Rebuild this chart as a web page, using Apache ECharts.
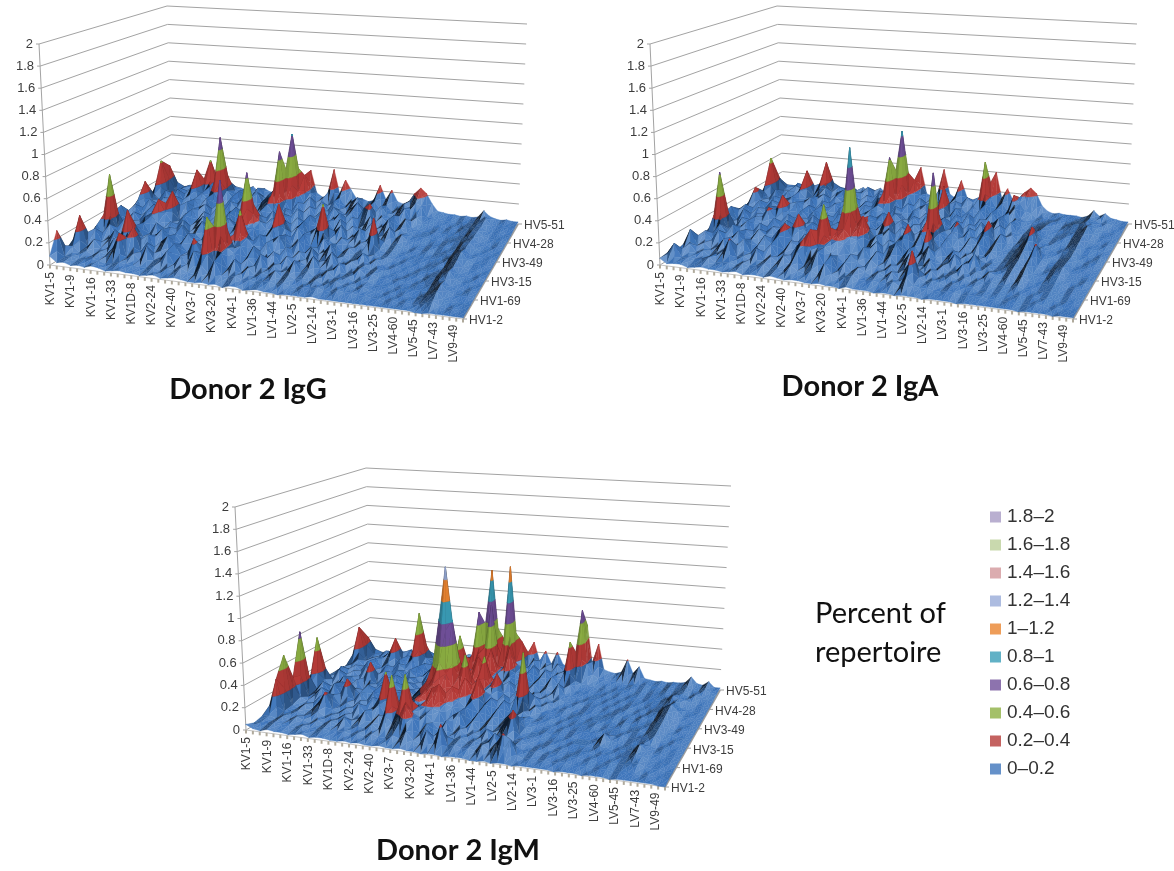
<!DOCTYPE html>
<html><head><meta charset="utf-8">
<style>html,body{margin:0;padding:0;background:#fff}#c{width:1174px;height:871px;filter:blur(0.45px)}</style>
<script src="https://cdn.jsdelivr.net/npm/echarts@6/dist/echarts.min.js"></script>
</head><body><div id="c"></div>
<script>
// Labelled genes: every third column / every third row carries a label.
const xLabels=['KV1-5','KV1-9','KV1-16','KV1-33','KV1D-8','KV2-24','KV2-40','KV3-7','KV3-20','KV4-1','LV1-36','LV1-44','LV2-5','LV2-14','LV3-1','LV3-16','LV3-25','LV4-60','LV5-45','LV7-43','LV9-49'];
const depthLabels=['HV1-2','HV1-69','HV3-15','HV3-49','HV4-28','HV5-51'];
const zTicks=[0,0.2,0.4,0.6,0.8,1,1.2,1.4,1.6,1.8,2];
const bandNames=['0–0.2','0.2–0.4','0.4–0.6','0.6–0.8','0.8–1','1–1.2','1.2–1.4','1.4–1.6','1.6–1.8','1.8–2'];
const bandColors=['#3f76bb','#b53b38','#8db043','#71509a','#3a9db8','#ea8430','#98abd8','#d2979b','#bbd09a','#a89bc4'];
// Percent of repertoire x100, rows run front (HV1-2) to back (HV5-51), columns left to right.
const donor2IgG=[
[8,3,4,2,3,2,4,3,1,2, 3,2,2,1,2,3,1,2,3,2, 1,1,2,1,2,0,2,2,0,1, 2,1,1,0,1,1,1,1,2,1, 1,1,1,1,1,1,1,1,1,1, 1,1,1,0,0,1,1,1,1,1, 1],
[27,4,5,3,4,5,4,2,3,5, 4,4,3,3,5,2,5,4,7,4, 3,12,5,17,5,4,6,3,4,3, 4,5,3,5,3,2,4,4,5,3, 3,5,4,4,3,3,2,2,1,2, 1,2,1,2,4,6,2,1,2,1, 1],
[5,9,4,6,3,7,5,12,26,5, 9,3,17,5,7,15,4,12,5,18, 5,50,9,19,6,15,4,9,3,6, 5,9,4,7,4,5,3,6,3,5, 7,4,5,3,5,3,2,1,2,1, 2,1,1,3,6,9,3,2,1,1, 1],
[3,33,5,12,5,4,15,7,18,28, 6,15,5,9,4,17,7,5,24,12, 14,20,80,19,15,5,12,6,17,5, 9,4,6,15,5,7,3,5,9,4, 5,6,3,5,4,2,2,2,1,2, 2,2,2,2,5,10,4,2,2,2, 1],
[5,7,17,5,9,18,6,38,15,7, 17,5,12,18,6,12,5,15,7,19, 12,17,22,15,17,7,18,5,9,15, 5,12,5,9,6,15,5,4,6,12, 3,5,9,4,6,3,3,2,3,2, 1,2,2,3,7,8,3,2,1,2, 1],
[4,15,6,17,7,5,15,19,9,5, 12,18,5,15,7,17,9,6,15,9, 18,19,14,44,19,12,6,17,7,5, 15,6,12,5,17,5,7,15,4,6, 9,5,7,3,5,4,2,2,1,2, 2,1,3,4,8,11,4,2,2,1, 1],
[6,12,60,7,18,9,5,17,7,18, 6,15,9,19,5,12,7,18,5,15, 7,19,18,17,9,18,5,15,19,7, 5,17,6,12,5,9,17,5,7,4, 6,12,4,7,3,2,3,2,2,1, 2,2,2,3,6,9,3,2,1,2, 1],
[5,18,9,5,12,6,17,19,12,6, 15,7,18,5,12,19,6,9,17,5, 15,22,18,18,6,12,19,7,15,5, 9,18,7,5,15,6,12,5,9,5, 7,4,6,4,5,3,2,3,2,2, 1,2,3,2,7,10,4,2,2,1, 1],
[7,20,7,15,6,17,9,30,18,9, 5,17,7,12,18,6,15,7,19,12, 22,65,26,19,12,6,38,15,5,17, 7,15,19,42,9,5,12,7,5,9, 6,34,5,3,5,3,3,2,2,2, 2,2,2,4,9,12,5,2,2,2, 1],
[5,9,17,6,12,19,7,15,34,6, 12,18,9,17,5,15,7,18,6,12, 17,19,19,12,18,7,17,6,12,18, 5,9,17,6,12,18,5,9,17,6, 12,5,7,4,6,4,2,3,2,3, 1,2,3,3,7,9,3,3,2,2, 1],
[4,15,6,18,9,5,17,7,12,19, 6,15,19,7,17,5,12,19,7,15, 6,18,9,19,5,17,7,15,6,19, 9,5,15,7,18,6,12,5,9,17, 5,7,15,5,9,4,3,2,1,2, 2,3,2,3,8,9,4,2,2,1, 1],
[7,30,12,5,15,7,18,9,6,17, 9,19,7,15,6,18,12,6,17,7, 15,19,12,6,17,9,18,5,12,7, 17,6,12,18,7,15,5,9,18,6, 9,17,5,9,5,3,3,3,2,2, 1,2,3,4,6,8,3,2,1,2, 1],
[5,12,6,17,9,19,7,15,5,18, 12,19,9,6,17,7,19,12,6,15, 19,24,68,17,7,18,9,15,6,12, 5,17,9,6,15,7,19,24,6,12, 7,15,6,12,4,3,2,2,3,2, 2,2,2,3,7,8,4,2,2,2, 1],
[5,42,9,6,15,7,17,36,12,19, 7,72,17,9,18,6,12,19,7,17, 19,20,26,82,24,12,19,7,15,6, 17,9,5,12,18,7,15,6,17,9, 5,9,17,6,9,4,3,2,2,1, 2,1,3,4,6,7,3,2,2,1, 1],
[4,32,5,9,6,12,5,7,42,15, 9,22,12,6,15,7,17,9,6,18, 22,30,45,38,35,17,7,12,6,9, 15,7,12,17,6,9,15,7,12,6, 9,15,12,17,15,4,4,3,2,2, 1,2,2,3,6,8,3,2,2,2, 2],
[2,6,5,7,8,6,9,7,11,8, 7,10,9,8,12,7,11,8,9,7, 12,10,13,9,35,12,8,10,38,13, 28,18,9,10,8,10,26,12,22,11, 9,12,21,27,22,12,5,4,3,3, 2,3,2,3,10,5,3,2,3,2, 2]
];
const donor2IgA=[
[6,2,3,3,1,2,3,2,2,1, 2,3,1,2,2,1,3,2,1,2, 2,1,1,2,1,1,0,2,1,1, 1,0,1,1,0,1,1,1,0,1, 1,1,1,0,1,1,1,1,1,1, 1,1,0,1,1,1,1,0,1,1, 1],
[7,16,4,5,4,5,7,3,4,5, 3,6,4,5,7,3,5,4,9,5, 4,7,4,15,6,3,5,7,4,4, 5,4,4,6,3,12,5,4,4,3, 3,4,4,2,3,3,3,2,2,1, 2,2,1,2,3,2,1,2,1,1, 1],
[4,5,12,5,7,3,6,9,21,5, 7,4,15,5,9,5,12,6,17,5, 12,19,7,17,5,12,5,9,6,4, 7,5,9,3,5,30,7,4,6,5, 3,5,4,4,4,2,3,2,3,2, 2,3,2,3,2,3,2,1,2,2, 1],
[3,20,6,9,4,7,15,5,9,17, 5,12,6,15,5,9,7,17,24,33, 17,18,14,12,6,15,9,5,12,7, 5,9,4,7,15,6,5,9,3,5, 7,4,6,3,5,4,5,3,4,3, 5,3,3,2,3,4,3,2,3,2, 1],
[5,9,15,7,17,5,12,18,6,12, 7,17,9,18,6,15,9,5,15,19, 52,19,20,18,9,5,17,7,15,6, 12,5,9,17,5,7,12,5,9,4, 6,12,5,7,3,8,6,4,7,3, 8,4,3,3,4,5,4,2,3,2, 1],
[5,7,6,17,9,18,5,15,9,17, 12,6,18,25,12,7,17,9,6,18, 19,24,26,19,17,7,12,18,6,15, 19,7,15,6,12,18,9,5,7,15, 5,9,17,5,7,4,5,6,9,5, 12,5,4,3,6,7,4,3,2,3, 1],
[4,15,62,9,6,12,18,7,17,6, 15,9,18,7,30,17,6,15,9,18, 19,32,98,26,35,12,18,7,15,9, 17,6,12,5,30,7,15,6,12,5, 9,5,7,4,5,3,4,7,10,6, 15,6,3,4,7,9,4,3,2,2, 1],
[6,17,9,5,15,7,17,12,6,18, 9,17,6,15,9,18,7,12,17,7, 15,22,30,19,18,9,15,19,7,12, 26,9,18,7,15,6,17,9,5,12, 7,15,5,9,5,3,5,8,13,7, 21,7,4,4,6,8,3,3,3,2, 1],
[5,19,6,18,7,15,9,22,12,7, 17,6,15,9,19,7,17,6,15,19, 12,19,22,19,12,18,30,7,17,12, 6,15,19,72,15,7,18,12,6,15, 9,18,6,12,5,4,6,9,17,8, 11,6,5,3,5,7,4,2,3,3, 1],
[7,12,17,6,15,9,18,7,30,15, 6,17,9,18,7,15,6,17,9,15, 18,9,19,15,7,17,9,18,6,15, 9,18,7,20,12,6,22,9,17,7, 15,26,7,15,6,4,5,10,25,9, 8,5,4,5,6,8,3,3,2,3, 1],
[5,9,6,17,7,18,12,6,15,19, 9,17,6,18,12,7,17,9,18,6, 15,19,9,17,6,18,12,7,17,9, 18,7,15,19,9,17,6,15,9,18, 6,12,17,7,9,3,6,9,15,8, 5,6,5,4,7,10,4,4,3,2, 1],
[6,24,12,7,17,9,15,18,7,15, 19,7,17,9,15,6,18,12,7,17, 9,18,15,7,19,12,6,17,9,15, 7,18,12,6,17,9,19,7,15,6, 12,18,7,15,6,4,6,8,11,6, 4,5,6,5,8,11,5,3,2,3, 1],
[5,15,7,18,6,17,9,19,12,6, 15,18,7,17,12,6,18,9,15,7, 19,22,62,18,9,17,7,15,18,6, 12,38,9,17,7,15,6,18,9,17, 7,15,6,12,5,3,5,7,9,5, 4,4,5,6,9,13,6,3,3,2, 1],
[5,45,6,12,7,18,15,35,9,17, 19,7,15,18,6,17,9,15,7,18, 12,19,22,85,20,9,18,6,15,9, 17,7,18,12,6,15,9,18,7,15, 6,12,17,7,5,4,4,5,6,5, 3,5,7,8,10,9,6,3,2,2, 1],
[3,18,9,6,15,7,12,7,17,40, 9,15,7,17,6,12,18,7,15,9, 17,20,35,24,30,15,7,12,6,17, 9,15,7,17,12,6,55,19,9,15, 7,24,17,9,7,3,4,3,3,4, 3,3,4,5,8,6,4,5,3,2, 2],
[2,4,6,8,7,9,6,8,11,7, 9,8,12,7,11,8,9,12,7,11, 8,12,11,13,38,11,9,12,38,13, 9,28,11,8,12,9,13,40,14,24, 12,14,22,27,22,10,5,3,4,3, 3,3,2,4,10,5,8,4,3,2, 2]
];
const donor2IgM=[
[5,2,1,3,2,2,1,2,3,1, 2,2,1,1,2,1,2,1,1,2, 1,1,2,1,1,0,1,1,0,1, 1,1,0,0,1,0,1,1,0,1, 1,1,1,1,0,1,1,1,0,1, 1,1,0,1,1,1,1,1,1,0, 0],
[2,3,3,5,4,4,3,5,3,3, 5,4,4,5,3,5,3,6,4,4, 7,5,12,5,3,15,5,22,4,6, 4,5,3,9,5,12,21,17,4,2, 3,2,3,2,3,3,2,2,2,1, 2,2,1,2,2,2,1,2,1,1, 1],
[4,5,3,6,4,7,5,3,6,4, 7,5,12,4,6,5,9,5,18,12, 19,30,19,7,15,5,9,6,5,7, 4,6,5,7,15,5,4,7,3,3, 4,2,3,3,2,3,3,2,3,2, 2,3,2,3,4,5,3,2,2,1, 1],
[3,34,5,5,7,4,6,9,5,7, 5,9,5,7,15,6,12,7,50,19, 52,19,15,18,12,6,15,5,9,5, 7,5,12,4,6,9,5,6,4,2, 3,4,2,3,2,2,3,3,2,3, 3,2,3,4,7,6,3,2,2,2, 1],
[3,52,6,5,9,5,12,22,7,5, 9,5,15,6,12,17,7,15,6,17, 15,19,20,19,17,7,15,19,6,12, 5,9,5,7,17,26,5,4,4,3, 2,3,3,2,3,3,3,2,4,3, 2,3,3,4,10,5,3,3,2,2, 1],
[4,27,9,6,5,12,7,15,6,9, 6,12,7,17,9,42,6,17,9,19, 22,19,32,36,19,17,9,18,7,15, 6,12,5,9,5,15,6,3,3,4, 3,3,2,3,2,2,2,3,10,4, 3,2,3,3,5,4,2,3,2,2, 1],
[4,66,5,9,15,6,20,9,26,7, 15,7,17,6,18,12,19,9,15,19, 24,30,24,19,30,18,12,19,9,17, 7,15,6,12,4,9,5,4,3,3, 2,3,2,3,3,3,3,2,3,3, 4,2,3,4,5,7,3,2,3,2, 1],
[3,12,7,15,6,9,17,7,12,6, 17,9,18,7,15,6,17,12,19,26, 30,46,36,24,19,34,19,36,12,18, 9,17,7,5,9,5,3,4,4,2, 3,2,3,3,3,4,2,3,3,3, 2,3,4,3,6,8,4,3,2,2, 1],
[5,52,12,6,9,17,7,15,6,12, 7,15,6,17,9,18,12,6,19,26, 82,132,82,30,50,19,28,18,15,9, 17,7,15,58,5,9,4,4,3,3, 2,3,3,2,3,3,3,3,2,4, 3,3,3,4,7,9,5,2,3,2, 1],
[4,9,6,17,7,12,6,9,28,7, 15,9,18,6,17,12,7,18,15,20, 30,46,40,24,19,17,45,18,30,12, 6,15,7,5,12,5,7,3,3,4, 2,2,3,3,2,2,3,4,3,3, 2,4,3,3,8,11,6,3,2,2, 1],
[5,6,15,7,12,6,17,9,6,15, 7,17,9,19,12,6,18,9,17,19, 20,24,19,19,38,17,20,15,9,18, 7,12,5,9,5,7,4,6,4,3, 4,2,3,3,2,3,2,3,4,2, 3,2,4,5,10,13,8,3,3,2, 1],
[5,9,7,12,6,17,9,6,15,7, 18,12,6,17,9,15,19,12,7,18, 52,19,20,36,19,40,18,12,17,7, 15,6,12,5,9,6,15,5,4,3, 2,3,3,2,3,2,3,2,3,3, 2,3,3,4,6,9,4,3,2,2, 1],
[4,7,12,6,9,15,7,12,6,17, 9,18,7,15,6,18,12,17,9,19, 20,24,72,26,80,19,18,38,15,9, 17,7,12,6,15,7,5,9,3,3, 3,2,2,3,2,3,2,3,3,2, 3,3,3,5,9,7,6,4,2,2, 1],
[3,40,6,9,7,12,17,32,7,15, 9,60,15,7,18,12,6,17,9,19, 22,18,24,110,26,20,115,19,15,9, 18,7,15,6,12,9,45,7,5,4, 3,2,3,2,3,3,3,2,3,2, 3,3,4,3,5,6,3,5,3,2, 1],
[2,25,7,6,12,7,9,6,15,9, 7,17,9,6,15,7,17,9,6,15, 20,22,40,24,36,19,15,35,9,17, 7,12,6,15,9,17,7,72,19,9, 5,5,4,4,3,2,3,3,4,3, 3,2,4,3,4,6,4,3,5,3, 2],
[1,3,4,6,5,8,7,10,6,9, 8,7,11,8,9,12,8,11,9,7, 12,10,13,9,11,30,10,12,30,11, 22,9,22,10,8,9,11,52,13,34, 9,7,6,8,21,8,15,4,3,2, 3,2,3,3,4,10,4,3,7,2, 2]
];

const nCols=61,nRows=16;
const colNames=Array.from({length:nCols},(_,i)=>i%3===0?xLabels[i/3]:'');
const rowNames=Array.from({length:nRows},(_,i)=>i%3===0?depthLabels[i/3]:'');

// Each panel's view: floor and z=2 plane corners [front-left, front-right, back-right, back-left].
const panels=[
 {rows:donor2IgG,floor:[[50,265],[463,319],[518,224],[173,190]],top:[[39,44],[472,79],[527,24],[167,6]]},
 {rows:donor2IgA,floor:[[660,265],[1073,319],[1128,224],[783,190]],top:[[650,44],[1082,79],[1137,24],[777,6]]},
 {rows:donor2IgM,floor:[[246,730],[665,787],[720,690],[371,655]],top:[[235,507],[675,542],[731,486],[366,468]]}
];
function bilinear(q){
 const [a,b,c,d]=q;
 return (u,v)=>[0,1].map(k=>(a[k]*(1-u)+b[k]*u)*(1-v)+(d[k]*(1-u)+c[k]*u)*v);
}
panels.forEach(p=>{
 const H0=bilinear(p.floor),H2=bilinear(p.top);
 p.proj=(u,v,z)=>{const t=echarts.number.linearMap(z,[0,2],[0,1]);const A=H0(u,v),B=H2(u,v);return [A[0]+(B[0]-A[0])*t,A[1]+(B[1]-A[1])*t];};
});
function shade(hex,f){
 const n=parseInt(hex.slice(1),16);let r=n>>16,g=(n>>8)&255,b=n&255;
 const m=x=>Math.round(f<=1?x*f:x+(255-x)*(f-1)*0.75);
 return 'rgb('+m(r)+','+m(g)+','+m(b)+')';
}
function clip(poly,lim,keepAbove){
 const out=[];
 for(let i=0;i<poly.length;i++){
  const a=poly[i],b=poly[(i+1)%poly.length];
  const ia=keepAbove?a[2]>=lim:a[2]<=lim, ib=keepAbove?b[2]>=lim:b[2]<=lim;
  if(ia)out.push(a);
  if(ia!==ib){const t=(lim-a[2])/(b[2]-a[2]);out.push([a[0]+(b[0]-a[0])*t,a[1]+(b[1]-a[1])*t,lim]);}
 }
 return out;
}
const LIGHT=(()=>{const v=[0.5,-0.4,0.77],l=Math.hypot(...v);return v.map(x=>x/l);})();
function triangles(panel,tri,out){
 const sx=60,sy=40,sz=20; // model scale used only for lighting
 const P=tri.map(p=>[p[0]*sx,p[1]*sy,p[2]*sz]);
 const a=[P[1][0]-P[0][0],P[1][1]-P[0][1],P[1][2]-P[0][2]],b=[P[2][0]-P[0][0],P[2][1]-P[0][1],P[2][2]-P[0][2]];
 let n=[a[1]*b[2]-a[2]*b[1],a[2]*b[0]-a[0]*b[2],a[0]*b[1]-a[1]*b[0]];
 const L=Math.hypot(...n)||1;n=n.map(x=>x/L);
 const dot=n[0]*LIGHT[0]+n[1]*LIGHT[1]+n[2]*LIGHT[2];
 let f=0.97+(dot-LIGHT[2])*1.5;f=Math.max(0.22,Math.min(1.55,f));
 const s=tri.map(p=>panel.proj(p[0],p[1],p[2]));
 const area=(s[1][0]-s[0][0])*(s[2][1]-s[0][1])-(s[2][0]-s[0][0])*(s[1][1]-s[0][1]);
 const back=area>0;
 const zs=tri.map(p=>p[2]);
 const lo=Math.min(...zs),hi=Math.max(...zs);
 for(let i=Math.floor(lo/0.2);i<bandColors.length;i++){
  const bl=i*0.2,bh=(i+1)*0.2;
  if(bl>hi)break;
  let poly=clip(clip(tri,bl,true),bh,false);
  if(poly.length<3)continue;
  const fill=back?shade(i===0?'#122238':bandColors[i],i===0?1:0.45):shade(bandColors[i],i===0?f:0.72+0.28*f);
  out.push({type:'polygon',shape:{points:poly.map(p=>panel.proj(p[0],p[1],p[2]))},style:{fill,stroke:fill,lineWidth:0.35},silent:true});
 }
}
function surfaceRender(panel){
 return function(params,api){
  const c=api.value(0),r=api.value(1),cs=params.coordSys;
  const uv=(i,j)=>{const p=api.coord([i,j]);return [(p[0]-cs.x)/cs.width,1-(p[1]-cs.y)/cs.height];};
  const V=(i,j)=>{const q=uv(i,j);return [q[0],q[1],panel.rows[j][i]/100];};
  const FL=V(c,r),FR=V(c+1,r),BR=V(c+1,r+1),BL=V(c,r+1);
  const M=[(FL[0]+BR[0])/2,(FL[1]+BR[1])/2,(FL[2]+FR[2]+BR[2]+BL[2])/4];
  const out=[];
  triangles(panel,[BR,BL,M],out);
  triangles(panel,[BL,FL,M],out);
  triangles(panel,[FR,BR,M],out);
  triangles(panel,[FL,FR,M],out);
  return {type:'group',silent:true,children:out};
 };
}
const LINE='#a3a3a3',TXT='#3c3c3c',FF='Liberation Sans';
function frameRender(panel){
 return function(){
  const k=[],P=panel.proj;
  const line=(a,b,col,w)=>k.push({type:'line',shape:{x1:a[0],y1:a[1],x2:b[0],y2:b[1]},style:{stroke:col,lineWidth:w},silent:true});
  zTicks.forEach(z=>{
   if(z>0){line(P(0,0,z),P(0,1,z),LINE,1);line(P(0,1,z),P(1,1,z),LINE,1);}
   const a=P(0,0,z);
   line([a[0]-3,a[1]],a,LINE,1);
   k.push({type:'text',x:a[0]-6,y:a[1],style:{text:String(z),fontFamily:FF,fontSize:13,fill:TXT,align:'right',verticalAlign:'middle'},silent:true});
  });
  line(P(0,0,0),P(0,0,2),LINE,1);
  line(P(0,0,0),P(0,1,0),LINE,1);
  line(P(1,0,0),P(1,1,0),'#9c9c9c',2);
  line(P(0,0,0),P(1,0,0),'#c4c4c4',1);
  for(let i=0;i<=nCols;i++){const a=P(i/nCols,0,0);line(a,[a[0],a[1]+3.5],'#b0aa9c',2);}
  colNames.forEach((t,i)=>{
   if(!t)return;
   const a=P(i/61.5,0,0);
   k.push({type:'text',x:a[0]+1,y:a[1]+7,rotation:Math.PI/2,style:{text:t,fontFamily:FF,fontSize:12,fill:TXT,align:'right',verticalAlign:'middle'},silent:true});
  });
  rowNames.forEach((t,j)=>{
   if(!t)return;
   const a=P(1,j/(nRows-1),0);
   line(a,[a[0]+4,a[1]],'#9c9c9c',1);
   k.push({type:'text',x:a[0]+6,y:a[1]+2,style:{text:t,fontFamily:FF,fontSize:12,fill:TXT,align:'left',verticalAlign:'middle'},silent:true});
  });
  return {type:'group',silent:true,children:k};
 };
}
const cells=[];
for(let r=nRows-2;r>=0;r--)for(let c=0;c<nCols-1;c++)cells.push([c,r]);

const series=[],grid=[],xAxis=[],yAxis=[];
panels.forEach((p,i)=>{
 grid.push({left:10,top:10+i*10,width:100,height:100,show:false,containLabel:false});
 xAxis.push({type:'category',gridIndex:i,show:false,boundaryGap:false,data:colNames});
 yAxis.push({type:'category',gridIndex:i,show:false,boundaryGap:false,data:rowNames});
 series.push({type:'custom',name:'frame'+i,xAxisIndex:i,yAxisIndex:i,z:1,silent:true,clip:false,animation:false,data:[[0,0]],renderItem:frameRender(p),tooltip:{show:false}});
 series.push({type:'custom',name:'surface'+i,xAxisIndex:i,yAxisIndex:i,z:2,silent:true,clip:false,animation:false,progressive:0,data:cells,encode:{x:0,y:1},renderItem:surfaceRender(p)});
});
bandNames.forEach((n,i)=>series.push({type:'scatter',name:n,data:[],xAxisIndex:0,yAxisIndex:0,itemStyle:{color:bandColors[i]}}));

const chart=echarts.init(document.getElementById('c'),null,{renderer:'canvas',width:1174,height:871});
const titleStyle={fontFamily:'Lato',fontWeight:'bold',fontSize:29,color:'#111'};
chart.setOption({
 animation:false,backgroundColor:'#fff',
 title:[
  {text:'Donor 2 IgG',left:243,top:370,textAlign:'center',textStyle:titleStyle},
  {text:'Donor 2 IgA',left:855,top:367,textAlign:'center',textStyle:titleStyle},
  {text:'Donor 2 IgM',left:453,top:831,textAlign:'center',textStyle:titleStyle},
  {text:'Percent of\nrepertoire',left:810,top:589,textStyle:{fontFamily:'Lato',fontWeight:'normal',fontSize:29,lineHeight:39,color:'#111'}}
 ],
 grid,xAxis,yAxis,series,
 legend:{orient:'vertical',left:985,top:502,icon:'rect',itemWidth:11,itemHeight:11,itemGap:8,selectedMode:false,
  data:bandNames.slice().reverse(),textStyle:{fontFamily:'Liberation Sans',fontSize:19,color:'#333',padding:[0,0,0,1],lineHeight:20,height:20}}
});
</script></body></html>
